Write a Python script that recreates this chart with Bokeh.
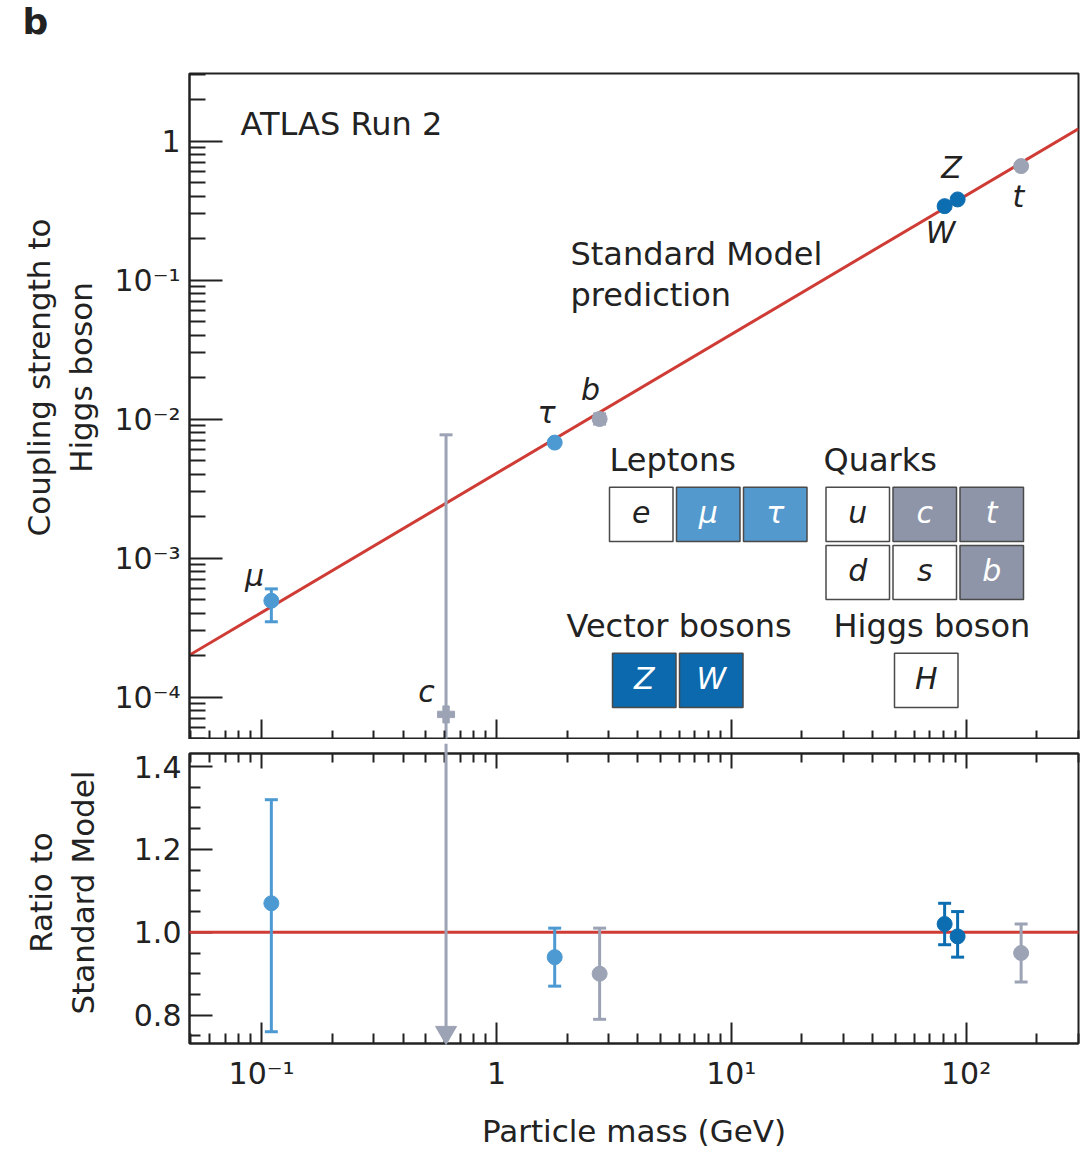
import math
from bokeh.plotting import figure
from bokeh.layouts import column, row
from bokeh.models import (ColumnDataSource, Label, LogAxis, FixedTicker,
                          CustomJSTickFormatter, Range1d, CDSView, BooleanFilter)
from bokeh.embed import file_html
from bokeh.resources import INLINE

# ---------------- data ----------------
particles     = ["μ", "c", "τ", "b", "W", "Z", "t"]
family        = ["lepton", "quark", "lepton", "quark", "boson", "boson", "quark"]
mass_gev      = [0.11, 0.61, 1.77, 2.75, 81.0, 92.0, 171.5]
coupling      = [4.93e-4, 7.5e-5, 6.77e-3, 1.00e-2, 0.340, 0.380, 0.660]
coupling_up   = [6.00e-4, 7.7e-3, 7.00e-3, 1.09e-2, 0.348, 0.388, 0.672]
coupling_down = [3.48e-4, 1.0e-6, 6.55e-3, 0.92e-2, 0.333, 0.372, 0.648]
ratio         = [1.07, 0.03, 0.94, 0.90, 1.02, 0.99, 0.95]
ratio_up      = [1.32, 3.10, 1.01, 1.01, 1.07, 1.05, 1.02]
ratio_down    = [0.76, 0.00, 0.87, 0.79, 0.97, 0.94, 0.88]
upper_limit   = [False, True, False, False, False, False, False]
sm_vev_gev    = 246.0

x_major_ticks      = [0.1, 1, 10, 100]
y_major_ticks_top  = [1e-4, 1e-3, 1e-2, 1e-1, 1]
y_major_ticks_bot  = [0.8, 1.0, 1.2, 1.4]
y_minor_ticks_bot  = [0.75, 0.85, 0.9, 0.95, 1.05, 1.1, 1.15, 1.25, 1.3, 1.35]

lepton_tiles   = ["e", "μ", "τ"]
lepton_seen    = [False, True, True]
quark_tiles    = [["u", "c", "t"], ["d", "s", "b"]]
quark_seen     = [[False, True, True], [False, False, True]]
boson_tiles    = ["Z", "W"]
boson_seen     = [True, True]
higgs_tiles    = ["H"]
higgs_seen     = [False]

# ---------------- style ----------------
FONT = "DejaVu Sans"
INK = "#222222"
COL = {"lepton": "#4d9ad3", "quark": "#9ca3b5", "boson": "#0d6db1"}
TILE = {"lepton": "#5499cd", "quark": "#8e95a8", "boson": "#0c69ad"}
RED = "#cf3b35"

X0, X1 = 0.0493, 301.0
YT0, YT1 = 4.95e-5, 3.06
YB0, YB1 = 0.7316, 1.4315

STRIP = 100           # width of the left strip holding the axis titles
ML = 89               # left border of the plots (frame starts at 189 px)
FW = 889
MR = 11
W = ML + FW + MR
TOTAL_H = 1151
# reference-image geometry of the frames (page pixels)
FL, FR = 189.0, 1078.0
TT, TB = 73.0, 737.0
BT, BB = 753.0, 1042.0


def xd(px):
    return 10 ** (math.log10(X0) + (px - FL) / (FR - FL) * (math.log10(X1) - math.log10(X0)))


def yt(py):
    return 10 ** (math.log10(YT0) + (TB - py) / (TB - TT) * (math.log10(YT1) - math.log10(YT0)))


def yb(py):
    return YB0 + (BB - py) / (BB - BT) * (YB1 - YB0)


pow10 = CustomJSTickFormatter(code="""
const e = Math.round(Math.log10(tick));
if (e === 0) { return "1"; }
const sup = {"-": "\u207b", "0": "\u2070", "1": "\u00b9", "2": "\u00b2", "3": "\u00b3",
             "4": "\u2074", "5": "\u2075", "6": "\u2076", "7": "\u2077", "8": "\u2078", "9": "\u2079"};
return "10" + String(e).split("").map((c) => sup[c]).join("");
""")
fixed1 = CustomJSTickFormatter(code="return tick.toFixed(1);")
blank = CustomJSTickFormatter(code="return '';")

x_minor = [k * 10.0 ** e for e in range(-2, 3) for k in range(2, 10)]
yt_minor = [k * 10.0 ** e for e in range(-5, 1) for k in range(2, 10)]


def style_axis(ax, major_in, minor_in, labels=True, size="30px", standoff=9):
    ax.axis_line_color = INK
    ax.axis_line_width = 2
    ax.major_tick_line_color = INK
    ax.minor_tick_line_color = INK
    ax.major_tick_line_width = 2
    ax.minor_tick_line_width = 2
    ax.major_tick_in = major_in
    ax.major_tick_out = 0
    ax.minor_tick_in = minor_in
    ax.minor_tick_out = 0
    if labels:
        ax.major_label_text_font = FONT
        ax.major_label_text_font_size = size
        ax.major_label_text_color = INK
        ax.major_label_standoff = standoff
    else:
        ax.formatter = blank
        ax.major_label_text_font_size = "2px"
        ax.major_label_standoff = 0


def base_fig(height, yrange, ytype, border_top, border_bottom, xrange):
    p = figure(width=W, height=height, x_axis_type="log", y_axis_type=ytype,
               x_range=xrange, y_range=yrange, output_backend="svg", toolbar_location=None,
               min_border_left=ML, min_border_right=MR,
               min_border_top=border_top, min_border_bottom=border_bottom)
    p.grid.visible = False
    p.background_fill_color = "white"
    p.border_fill_color = "white"
    p.outline_line_color = INK
    p.outline_line_width = 2
    return p


def add_text(p, x, y, text, size="32px", style="normal", align="left", baseline="middle",
             color=INK, angle=0.0):
    p.add_layout(Label(x=x, y=y, text=text, text_font=FONT, text_font_size=size,
                       text_font_style=style, text_align=align, text_baseline=baseline,
                       text_color=color, angle=angle))


src = ColumnDataSource(dict(
    x=mass_gev, y=coupling, up=coupling_up, dn=coupling_down,
    r=ratio, rup=ratio_up, rdn=ratio_down,
    color=[COL[f] for f in family],
))
measured = CDSView(filter=BooleanFilter([not u for u in upper_limit]))
limits = CDSView(filter=BooleanFilter(upper_limit))

xr = Range1d(X0, X1)

# ======================= left strip: panel letter and axis titles =======================
strip = figure(width=STRIP, height=TOTAL_H, x_range=Range1d(0, STRIP),
               y_range=Range1d(TOTAL_H, 0), x_axis_location=None, y_axis_location=None,
               output_backend="svg", toolbar_location=None,
               min_border_left=0, min_border_right=0, min_border_top=0, min_border_bottom=0)
strip.grid.visible = False
strip.outline_line_color = None
add_text(strip, 35, 21, "b", size="36px", style="bold", align="center")
add_text(strip, 38, 377, "Coupling strength to", size="31px", align="center", angle=math.pi / 2)
add_text(strip, 80, 377, "Higgs boson", size="31px", align="center", angle=math.pi / 2)
add_text(strip, 40, 892, "Ratio to", size="31px", align="center", angle=math.pi / 2)
add_text(strip, 82, 892, "Standard Model", size="31px", align="center", angle=math.pi / 2)

# ======================= top panel =======================
top = base_fig(739, Range1d(YT0, YT1), "log", 73, 0, xr)
top.xaxis.ticker = FixedTicker(ticks=x_major_ticks, minor_ticks=x_minor)
style_axis(top.xaxis[0], 20, 9, labels=False)
top.yaxis.ticker = FixedTicker(ticks=y_major_ticks_top, minor_ticks=yt_minor)
top.yaxis.formatter = pow10
style_axis(top.yaxis[0], 33, 16, standoff=9)

# Standard Model prediction: coupling = m / v
sm_x = [X0, X1]
top.line(sm_x, [m / sm_vev_gev for m in sm_x], line_color=RED, line_width=3)

top.segment(x0="x", y0="dn", x1="x", y1="up", line_color="color", line_width=3, source=src)
top.scatter("x", "up", marker="dash", size=13, line_color="color", line_width=3, source=src)
top.scatter("x", "dn", marker="dash", size=13, line_color="color", line_width=3, source=src)
top.scatter("x", "y", marker="circle", size=15, fill_color="color", line_color="color",
            source=src, view=measured)
top.scatter("x", "y", marker="plus", size=17, fill_color="color", line_color="color",
            source=src, view=limits)

add_text(top, xd(240), yt(123), "ATLAS Run 2")
add_text(top, xd(570), yt(253), "Standard Model")
add_text(top, xd(570), yt(294), "prediction")

# particle names near the points
point_label_px = {"μ": (254, 573), "c": (426, 689), "τ": (546, 411), "b": (590, 388),
                  "Z": (951, 167), "W": (940, 232), "t": (1018, 196)}
for name in particles:
    px, py = point_label_px[name]
    add_text(top, xd(px), yt(py), name, size="30px", style="italic", align="center")

# legend tiles (groups of coloured boxes)
TW, TH, PX, PY = 63.5, 54.0, 67.0, 58.0


def tiles(rows, seen_rows, fam, left_px, top_px):
    for r, (row_labels, seen) in enumerate(zip(rows, seen_rows)):
        for c, (lab, s) in enumerate(zip(row_labels, seen)):
            l = left_px + c * PX
            t = top_px + r * PY
            top.quad(left=xd(l), right=xd(l + TW), top=yt(t), bottom=yt(t + TH),
                     fill_color=TILE[fam] if s else "white", line_color="#4a4a4a",
                     line_width=1.5)
            add_text(top, xd(l + TW / 2), yt(t + TH / 2 - 2), lab, size="30px", style="italic",
                     align="center", color="white" if s else INK)


tiles([lepton_tiles], [lepton_seen], "lepton", 609, 485.5)
tiles(quark_tiles, quark_seen, "quark", 825.5, 485.5)
tiles([boson_tiles], [boson_seen], "boson", 612, 651)
tiles([higgs_tiles], [higgs_seen], "boson", 894, 651)
add_text(top, xd(609), yt(458), "Leptons")
add_text(top, xd(823), yt(458), "Quarks")
add_text(top, xd(566), yt(624), "Vector bosons")
add_text(top, xd(833), yt(624), "Higgs boson")

# ======================= gap between panels =======================
gap = figure(width=W, height=8, x_axis_type="log", x_range=xr,
             y_range=Range1d(0, 1), x_axis_location=None, y_axis_location=None,
             output_backend="svg", toolbar_location=None,
             min_border_left=ML, min_border_right=MR, min_border_top=0, min_border_bottom=0)
gap.grid.visible = False
gap.outline_line_color = None
gap.segment(x0="x", y0=0, x1="x", y1=1, line_color="color", line_width=3, source=src, view=limits)

# ======================= ratio panel =======================
bot = base_fig(404, Range1d(YB0, YB1), "linear", 6, 0, xr)
bot.xaxis.ticker = FixedTicker(ticks=x_major_ticks, minor_ticks=x_minor)
bot.xaxis.formatter = pow10
style_axis(bot.xaxis[0], 21, 10, standoff=12)
bot.xaxis.axis_label = "Particle mass (GeV)"
bot.xaxis.axis_label_text_font = FONT
bot.xaxis.axis_label_text_font_size = "31px"
bot.xaxis.axis_label_text_font_style = "normal"
bot.xaxis.axis_label_text_color = INK
bot.xaxis.axis_label_standoff = 19
above = LogAxis(ticker=FixedTicker(ticks=x_major_ticks, minor_ticks=x_minor))
style_axis(above, 15, 9, labels=False)
bot.add_layout(above, "above")
bot.yaxis.ticker = FixedTicker(ticks=y_major_ticks_bot, minor_ticks=y_minor_ticks_bot)
bot.yaxis.formatter = fixed1
style_axis(bot.yaxis[0], 23, 11, standoff=8)

# off-scale (upper limit) marker: downward arrow at the bottom edge
src.data["arrow_y"] = [yb(1031)] * len(mass_gev)

bot_glyphs = [
    bot.line(sm_x, [1.0, 1.0], line_color=RED, line_width=3),
    bot.segment(x0="x", y0="rdn", x1="x", y1="rup", line_color="color", line_width=3,
                source=src, view=measured),
    bot.segment(x0="x", y0="arrow_y", x1="x", y1="rup", line_color="color", line_width=3,
                source=src, view=limits),
    bot.scatter("x", "rup", marker="dash", size=13, line_color="color", line_width=3,
                source=src, view=measured),
    bot.scatter("x", "rdn", marker="dash", size=13, line_color="color", line_width=3,
                source=src, view=measured),
    bot.scatter("x", "r", marker="circle", size=15, fill_color="color", line_color="color",
                source=src, view=measured),
    bot.scatter("x", "arrow_y", marker="inverted_triangle", size=21,
                fill_color="color", line_color="color", source=src, view=limits),
]
for g in bot_glyphs:
    g.level = "annotation"

layout = row(strip, column(top, gap, bot, spacing=0), spacing=0)
open("out.html", "w").write(file_html(layout, INLINE))
